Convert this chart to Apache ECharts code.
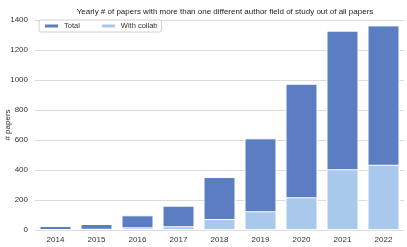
<!DOCTYPE html>
<html><head><meta charset="utf-8">
<script src="https://cdn.jsdelivr.net/npm/echarts@6/dist/echarts.min.js"></script>
<style>html,body{margin:0;padding:0;background:#fff}#c{width:407px;height:247px}</style>
</head><body><div id="c"></div>
<script>
var years = ['2014','2015','2016','2017','2018','2019','2020','2021','2022'];
var total = [27, 40, 98, 162, 353, 611, 975, 1329, 1364];
var withCollab = [5, 8, 18, 25, 73, 125, 218, 405, 435];
var yTicks = [0, 200, 400, 600, 800, 1000, 1200, 1400];

var chart = echarts.init(document.getElementById('c'), null, {renderer: 'canvas'});
chart.setOption({
  animation: false,
  backgroundColor: '#fff',
  title: {
    text: 'Yearly # of papers with more than one different author field of study out of all papers',
    left: 220, top: 3, textAlign: 'center',
    textStyle: {fontSize: 8, fontWeight: 'normal', color: '#222', fontFamily: 'Liberation Sans, Arial'}
  },
  legend: {
    left: 39, top: 20, orient: 'horizontal',
    itemWidth: 15, itemHeight: 5, itemGap: 20,
    padding: [2, 4, 2, 4],
    borderColor: '#d0d0d0', borderWidth: 1, borderRadius: 2, backgroundColor: '#fff',
    textStyle: {fontSize: 7.5, color: '#333', fontFamily: 'Liberation Sans, Arial'},
    data: [{name: 'Total', icon: 'rect'}, {name: 'With collab', icon: 'rect'}]
  },
  grid: {left: 35, right: 3, top: 20, bottom: 17, containLabel: false, outerBoundsMode: 'none'},
  xAxis: {
    type: 'category', data: years,
    axisLine: {show: false}, axisTick: {show: false},
    axisLabel: {fontSize: 8, color: '#333', margin: 6, fontFamily: 'Liberation Sans, Arial'}
  },
  yAxis: {
    type: 'value', min: yTicks[0], max: yTicks[yTicks.length - 1], interval: 200,
    name: '# papers', nameLocation: 'middle', nameGap: 23, nameRotate: 90, nameMoveOverlap: false,
    nameTextStyle: {fontSize: 8, color: '#333', fontFamily: 'Liberation Sans, Arial'},
    axisLabel: {fontSize: 8, color: '#333', margin: 7, fontFamily: 'Liberation Sans, Arial',
      formatter: function (v) { return String(v); }},
    splitLine: {lineStyle: {color: '#dcdcdc', width: 1}}
  },
  series: [
    {name: 'Total', type: 'bar', data: total, barGap: '-100%', barCategoryGap: '22%',
     itemStyle: {color: '#5b7ec2', borderColor: '#fff', borderWidth: 1}},
    {name: 'With collab', type: 'bar', data: withCollab, barGap: '-100%', barCategoryGap: '22%',
     itemStyle: {color: '#a9c9ec', borderColor: '#fff', borderWidth: 1}}
  ]
});
</script></body></html>
